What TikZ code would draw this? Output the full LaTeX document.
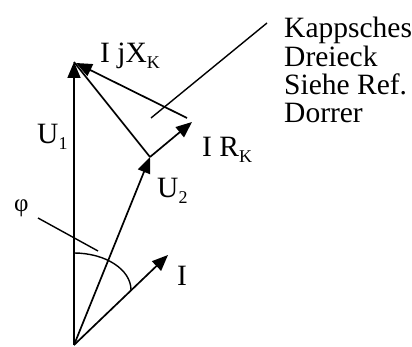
\documentclass[tikz,border=0pt]{standalone}
\usepackage{fontspec}
\setmainfont{Liberation Serif}
\usetikzlibrary{arrows.meta}
\newcommand{\mysub}[1]{\raisebox{-0.2em}{\fontsize{18}{18}\selectfont #1}}
\begin{document}
\begin{tikzpicture}[x=1pt,y=-1pt,
  vec/.style={line width=1.7pt,-{Triangle[length=16pt,width=13pt]}},
  plain/.style={line width=1.7pt},
  lbl/.style={anchor=base west,inner sep=0pt,font=\fontsize{29.5}{32}\selectfont}]
\useasboundingbox (0,0) rectangle (412,347);
\coordinate (O) at (74,345);
\coordinate (U1) at (74,62);
\coordinate (U2) at (150,157);
\coordinate (RK) at (192,122);
\coordinate (XS) at (187,118);
\coordinate (XE) at (76,63);
\coordinate (I) at (168,255);
\coordinate (K1) at (267,23);
\coordinate (K2) at (151,118);
\coordinate (P1) at (38,218);
\coordinate (P2) at (98,251);
\coordinate (A1) at (74,253);
% vectors
\draw[vec] (O) -- (U1);
\draw[vec] (O) -- (U2);
\draw[vec] (U2) -- (RK);
\draw[vec] (XS) -- (XE);
\draw[plain] (U2) -- (U1);
\draw[vec] (O) -- (I);
% angle arc
\draw[plain,line width=1.4pt] (A1) arc[start angle=-90,end angle=0,x radius=57,y radius=37];
% pointers
\draw[plain,line width=1.4pt] (P1) -- (P2);
\draw[plain,line width=1.4pt] (K1) -- (K2);
% labels
\node[lbl] (lU1) at (37,144) {U\mysub{1}};
\node[lbl] (lU2) at (157,198) {U\mysub{2}};
\node[lbl] (lX) at (100,63) {I jX\mysub{K}};
\node[lbl] (lR) at (202,157) {I R\mysub{K}};
\node[lbl] (lI) at (177,285) {I};
\node[lbl,font=\fontsize{25}{28}\selectfont] (lphi) at (14,212) {φ};
\node[lbl] (k1) at (284,38) {Kappsches};
\node[lbl] (k2) at (284,67) {Dreieck};
\node[lbl] (k3) at (284,95) {Siehe Ref.};
\node[lbl] (k4) at (284,123) {Dorrer};
\end{tikzpicture}
\end{document}
